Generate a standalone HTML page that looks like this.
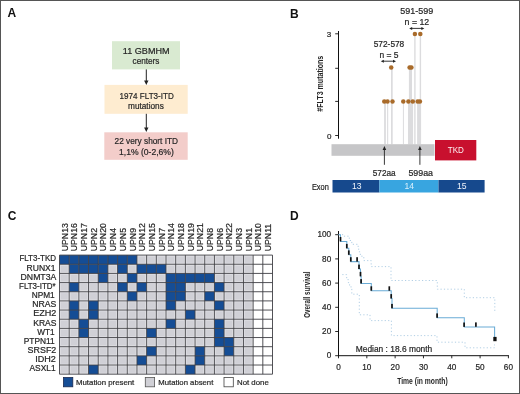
<!DOCTYPE html><html><head><meta charset="utf-8"><style>html,body{margin:0;padding:0;background:#fff;}svg{display:block;will-change:transform;}text{font-family:"Liberation Sans", sans-serif;}</style></head><body>
<svg width="520" height="394" viewBox="0 0 520 394">
<rect x="0" y="0" width="520" height="394" fill="#fff"/>
<text x="7.5" y="17.0" font-size="12" text-anchor="start" font-weight="bold" fill="#111">A</text>
<text x="290" y="17.6" font-size="12" text-anchor="start" font-weight="bold" fill="#111">B</text>
<text x="7.7" y="220.3" font-size="12" text-anchor="start" font-weight="bold" fill="#111">C</text>
<text x="290" y="220.3" font-size="12" text-anchor="start" font-weight="bold" fill="#111">D</text>
<rect x="112" y="41.2" width="68" height="28.2" fill="#d9ead1"/>
<rect x="104.5" y="84.9" width="83.2" height="28.9" fill="#feecd0"/>
<rect x="104.3" y="132.3" width="83.4" height="27.5" fill="#f3cdca"/>
<text x="146.2" y="53.8" font-size="8.7" text-anchor="middle" font-weight="normal" fill="#262626" stroke="#262626" stroke-width="0.2" textLength="46.7" lengthAdjust="spacingAndGlyphs">11 GBMHM</text>
<text x="146.0" y="63.8" font-size="8.7" text-anchor="middle" font-weight="normal" fill="#262626" stroke="#262626" stroke-width="0.2" textLength="26.9" lengthAdjust="spacingAndGlyphs">centers</text>
<text x="146.7" y="98.7" font-size="8.7" text-anchor="middle" font-weight="normal" fill="#262626" stroke="#262626" stroke-width="0.2" textLength="54.2" lengthAdjust="spacingAndGlyphs">1974 FLT3-ITD</text>
<text x="145.9" y="108.6" font-size="8.7" text-anchor="middle" font-weight="normal" fill="#262626" stroke="#262626" stroke-width="0.2" textLength="35.8" lengthAdjust="spacingAndGlyphs">mutations</text>
<text x="146.3" y="144.2" font-size="8.7" text-anchor="middle" font-weight="normal" fill="#262626" stroke="#262626" stroke-width="0.2" textLength="63.5" lengthAdjust="spacingAndGlyphs">22 very short ITD</text>
<text x="146.4" y="155.2" font-size="8.7" text-anchor="middle" font-weight="normal" fill="#262626" stroke="#262626" stroke-width="0.2" textLength="54.8" lengthAdjust="spacingAndGlyphs">1,1% (0-2,6%)</text>
<line x1="146.3" y1="69.4" x2="146.3" y2="81.0" stroke="#222" stroke-width="1"/>
<path d="M144.10000000000002,80.5 L148.5,80.5 L146.3,85.0 Z" fill="#222"/>
<line x1="146.3" y1="113.8" x2="146.3" y2="128.0" stroke="#222" stroke-width="1"/>
<path d="M144.10000000000002,127.5 L148.5,127.5 L146.3,132.0 Z" fill="#222"/>
<rect x="384.1" y="101.6" width="1.80" height="42.70" fill="#dcdcde"/>
<rect x="387.1" y="101.6" width="1.10" height="42.70" fill="#dcdcde"/>
<rect x="391.0" y="67.6" width="1.70" height="76.70" fill="#dcdcde"/>
<rect x="402.9" y="101.6" width="1.00" height="42.70" fill="#dcdcde"/>
<rect x="408.0" y="101.6" width="5.10" height="42.70" fill="#dcdcde"/>
<rect x="408.9" y="67.6" width="3.10" height="76.70" fill="#dcdcde"/>
<rect x="414.2" y="34" width="1.40" height="110.30" fill="#dcdcde"/>
<rect x="417.1" y="101.6" width="3.60" height="42.70" fill="#dcdcde"/>
<rect x="419.7" y="34" width="1.40" height="110.30" fill="#dcdcde"/>
<rect x="331.5" y="144.2" width="103" height="11.6" fill="#c6c6c8"/>
<rect x="435" y="140" width="41.3" height="20.4" fill="#c8102e"/>
<text x="455.8" y="153.2" font-size="8.6" text-anchor="middle" font-weight="normal" fill="#fdf0f2" textLength="16.1" lengthAdjust="spacingAndGlyphs">TKD</text>
<rect x="332.5" y="180" width="46.9" height="12.5" fill="#16498d"/>
<rect x="379.4" y="180" width="59.1" height="12.5" fill="#38a5e0"/>
<rect x="438.5" y="180" width="46.1" height="12.5" fill="#16498d"/>
<text x="356.7" y="189.1" font-size="8.6" text-anchor="middle" font-weight="normal" fill="#eef3fa">13</text>
<text x="409.3" y="189.1" font-size="8.6" text-anchor="middle" font-weight="normal" fill="#d9f0fc">14</text>
<text x="461.8" y="189.1" font-size="8.6" text-anchor="middle" font-weight="normal" fill="#eef3fa">15</text>
<text x="328.8" y="189.6" font-size="8.4" text-anchor="end" font-weight="normal" fill="#262626" stroke="#262626" stroke-width="0.2" textLength="16.9" lengthAdjust="spacingAndGlyphs">Exon</text>
<line x1="384.4" y1="149.5" x2="384.4" y2="164.8" stroke="#222" stroke-width="0.9"/>
<path d="M382.59999999999997,150.0 L386.2,150.0 L384.4,146.0 Z" fill="#222"/>
<line x1="419.9" y1="149.5" x2="419.9" y2="164.8" stroke="#222" stroke-width="0.9"/>
<path d="M418.09999999999997,150.0 L421.7,150.0 L419.9,146.0 Z" fill="#222"/>
<text x="384.2" y="176.2" font-size="8.4" text-anchor="middle" font-weight="normal" fill="#262626" stroke="#262626" stroke-width="0.2" textLength="22.9" lengthAdjust="spacingAndGlyphs">572aa</text>
<text x="420.7" y="175.8" font-size="8.4" text-anchor="middle" font-weight="normal" fill="#262626" stroke="#262626" stroke-width="0.2" textLength="24.6" lengthAdjust="spacingAndGlyphs">599aa</text>
<line x1="338.5" y1="31" x2="338.5" y2="138.7" stroke="#111" stroke-width="1"/>
<line x1="335.2" y1="33.8" x2="338.5" y2="33.8" stroke="#111" stroke-width="0.9"/>
<line x1="335.2" y1="68.3" x2="338.5" y2="68.3" stroke="#111" stroke-width="0.9"/>
<line x1="335.2" y1="101.4" x2="338.5" y2="101.4" stroke="#111" stroke-width="0.9"/>
<line x1="335.2" y1="135.5" x2="338.5" y2="135.5" stroke="#111" stroke-width="0.9"/>
<text x="331.3" y="36.9" font-size="8" text-anchor="end" font-weight="normal" fill="#262626" stroke="#262626" stroke-width="0.2">3</text>
<text x="331.5" y="138.5" font-size="8" text-anchor="end" font-weight="normal" fill="#262626" stroke="#262626" stroke-width="0.2">0</text>
<text x="323.5" y="83.7" font-size="8.6" text-anchor="middle" font-weight="bold" fill="#262626" textLength="56" lengthAdjust="spacingAndGlyphs" transform="rotate(-90 323.5 83.7)">#FLT3 mutations</text>
<text x="389.0" y="47.3" font-size="8.4" text-anchor="middle" font-weight="normal" fill="#262626" stroke="#262626" stroke-width="0.2" textLength="30.5" lengthAdjust="spacingAndGlyphs">572-578</text>
<text x="389.0" y="58.0" font-size="8.4" text-anchor="middle" font-weight="normal" fill="#262626" stroke="#262626" stroke-width="0.2" textLength="19.1" lengthAdjust="spacingAndGlyphs">n = 5</text>
<text x="416.7" y="14.0" font-size="8.4" text-anchor="middle" font-weight="normal" fill="#262626" stroke="#262626" stroke-width="0.2" textLength="32.9" lengthAdjust="spacingAndGlyphs">591-599</text>
<text x="416.9" y="24.6" font-size="8.4" text-anchor="middle" font-weight="normal" fill="#262626" stroke="#262626" stroke-width="0.2" textLength="24.6" lengthAdjust="spacingAndGlyphs">n = 12</text>
<line x1="382.8" y1="61.2" x2="394.0" y2="61.2" stroke="#222" stroke-width="0.9"/>
<path d="M380.8,61.2 L383.8,59.7 L383.8,62.7 Z" fill="#222"/>
<path d="M396.0,61.2 L393.0,59.7 L393.0,62.7 Z" fill="#222"/>
<line x1="411.2" y1="28.4" x2="422.3" y2="28.4" stroke="#222" stroke-width="0.9"/>
<path d="M409.2,28.4 L412.2,26.9 L412.2,29.9 Z" fill="#222"/>
<path d="M424.3,28.4 L421.3,26.9 L421.3,29.9 Z" fill="#222"/>
<circle cx="414.9" cy="34" r="2.25" fill="#a96b2a"/>
<circle cx="420.3" cy="34" r="2.25" fill="#a96b2a"/>
<circle cx="391.2" cy="67.6" r="2.25" fill="#a96b2a"/>
<circle cx="409.6" cy="67.6" r="2.25" fill="#a96b2a"/>
<circle cx="411.4" cy="67.6" r="2.25" fill="#a96b2a"/>
<circle cx="384.3" cy="101.6" r="2.25" fill="#a96b2a"/>
<circle cx="387.5" cy="101.6" r="2.25" fill="#a96b2a"/>
<circle cx="392.5" cy="101.6" r="2.25" fill="#a96b2a"/>
<circle cx="403.3" cy="101.6" r="2.25" fill="#a96b2a"/>
<circle cx="408.4" cy="101.6" r="2.25" fill="#a96b2a"/>
<circle cx="412.8" cy="101.6" r="2.25" fill="#a96b2a"/>
<circle cx="417.7" cy="101.6" r="2.25" fill="#a96b2a"/>
<circle cx="419.9" cy="101.6" r="2.25" fill="#a96b2a"/>
<rect x="59.50" y="255.10" width="9.682" height="9.16" fill="#154d95"/>
<rect x="69.18" y="255.10" width="9.682" height="9.16" fill="#154d95"/>
<rect x="78.86" y="255.10" width="9.682" height="9.16" fill="#154d95"/>
<rect x="88.55" y="255.10" width="9.682" height="9.16" fill="#154d95"/>
<rect x="98.23" y="255.10" width="9.682" height="9.16" fill="#154d95"/>
<rect x="107.91" y="255.10" width="9.682" height="9.16" fill="#154d95"/>
<rect x="117.59" y="255.10" width="9.682" height="9.16" fill="#154d95"/>
<rect x="127.27" y="255.10" width="9.682" height="9.16" fill="#154d95"/>
<rect x="137.96" y="256.10" width="7.682" height="7.16" fill="#d0d0d6" stroke="#dadadf" stroke-width="1"/>
<rect x="147.64" y="256.10" width="7.682" height="7.16" fill="#d0d0d6" stroke="#dadadf" stroke-width="1"/>
<rect x="157.32" y="256.10" width="7.682" height="7.16" fill="#d0d0d6" stroke="#dadadf" stroke-width="1"/>
<rect x="167.00" y="256.10" width="7.682" height="7.16" fill="#d0d0d6" stroke="#dadadf" stroke-width="1"/>
<rect x="176.68" y="256.10" width="7.682" height="7.16" fill="#d0d0d6" stroke="#dadadf" stroke-width="1"/>
<rect x="186.37" y="256.10" width="7.682" height="7.16" fill="#d0d0d6" stroke="#dadadf" stroke-width="1"/>
<rect x="196.05" y="256.10" width="7.682" height="7.16" fill="#d0d0d6" stroke="#dadadf" stroke-width="1"/>
<rect x="205.73" y="256.10" width="7.682" height="7.16" fill="#d0d0d6" stroke="#dadadf" stroke-width="1"/>
<rect x="215.41" y="256.10" width="7.682" height="7.16" fill="#d0d0d6" stroke="#dadadf" stroke-width="1"/>
<rect x="225.09" y="256.10" width="7.682" height="7.16" fill="#d0d0d6" stroke="#dadadf" stroke-width="1"/>
<rect x="234.78" y="256.10" width="7.682" height="7.16" fill="#d0d0d6" stroke="#dadadf" stroke-width="1"/>
<rect x="244.46" y="256.10" width="7.682" height="7.16" fill="#d0d0d6" stroke="#dadadf" stroke-width="1"/>
<rect x="253.14" y="255.10" width="9.682" height="9.16" fill="#ffffff"/>
<rect x="262.82" y="255.10" width="9.682" height="9.16" fill="#ffffff"/>
<rect x="60.50" y="265.26" width="7.682" height="7.16" fill="#d0d0d6" stroke="#dadadf" stroke-width="1"/>
<rect x="69.18" y="264.26" width="9.682" height="9.16" fill="#154d95"/>
<rect x="78.86" y="264.26" width="9.682" height="9.16" fill="#154d95"/>
<rect x="88.55" y="264.26" width="9.682" height="9.16" fill="#154d95"/>
<rect x="98.23" y="264.26" width="9.682" height="9.16" fill="#154d95"/>
<rect x="108.91" y="265.26" width="7.682" height="7.16" fill="#d0d0d6" stroke="#dadadf" stroke-width="1"/>
<rect x="117.59" y="264.26" width="9.682" height="9.16" fill="#154d95"/>
<rect x="128.27" y="265.26" width="7.682" height="7.16" fill="#d0d0d6" stroke="#dadadf" stroke-width="1"/>
<rect x="136.96" y="264.26" width="9.682" height="9.16" fill="#154d95"/>
<rect x="146.64" y="264.26" width="9.682" height="9.16" fill="#154d95"/>
<rect x="156.32" y="264.26" width="9.682" height="9.16" fill="#154d95"/>
<rect x="167.00" y="265.26" width="7.682" height="7.16" fill="#d0d0d6" stroke="#dadadf" stroke-width="1"/>
<rect x="176.68" y="265.26" width="7.682" height="7.16" fill="#d0d0d6" stroke="#dadadf" stroke-width="1"/>
<rect x="186.37" y="265.26" width="7.682" height="7.16" fill="#d0d0d6" stroke="#dadadf" stroke-width="1"/>
<rect x="196.05" y="265.26" width="7.682" height="7.16" fill="#d0d0d6" stroke="#dadadf" stroke-width="1"/>
<rect x="205.73" y="265.26" width="7.682" height="7.16" fill="#d0d0d6" stroke="#dadadf" stroke-width="1"/>
<rect x="215.41" y="265.26" width="7.682" height="7.16" fill="#d0d0d6" stroke="#dadadf" stroke-width="1"/>
<rect x="225.09" y="265.26" width="7.682" height="7.16" fill="#d0d0d6" stroke="#dadadf" stroke-width="1"/>
<rect x="234.78" y="265.26" width="7.682" height="7.16" fill="#d0d0d6" stroke="#dadadf" stroke-width="1"/>
<rect x="244.46" y="265.26" width="7.682" height="7.16" fill="#d0d0d6" stroke="#dadadf" stroke-width="1"/>
<rect x="253.14" y="264.26" width="9.682" height="9.16" fill="#ffffff"/>
<rect x="262.82" y="264.26" width="9.682" height="9.16" fill="#ffffff"/>
<rect x="60.50" y="274.42" width="7.682" height="7.16" fill="#d0d0d6" stroke="#dadadf" stroke-width="1"/>
<rect x="70.18" y="274.42" width="7.682" height="7.16" fill="#d0d0d6" stroke="#dadadf" stroke-width="1"/>
<rect x="79.86" y="274.42" width="7.682" height="7.16" fill="#d0d0d6" stroke="#dadadf" stroke-width="1"/>
<rect x="89.55" y="274.42" width="7.682" height="7.16" fill="#d0d0d6" stroke="#dadadf" stroke-width="1"/>
<rect x="98.23" y="273.42" width="9.682" height="9.16" fill="#154d95"/>
<rect x="108.91" y="274.42" width="7.682" height="7.16" fill="#d0d0d6" stroke="#dadadf" stroke-width="1"/>
<rect x="118.59" y="274.42" width="7.682" height="7.16" fill="#d0d0d6" stroke="#dadadf" stroke-width="1"/>
<rect x="127.27" y="273.42" width="9.682" height="9.16" fill="#154d95"/>
<rect x="137.96" y="274.42" width="7.682" height="7.16" fill="#d0d0d6" stroke="#dadadf" stroke-width="1"/>
<rect x="147.64" y="274.42" width="7.682" height="7.16" fill="#d0d0d6" stroke="#dadadf" stroke-width="1"/>
<rect x="157.32" y="274.42" width="7.682" height="7.16" fill="#d0d0d6" stroke="#dadadf" stroke-width="1"/>
<rect x="166.00" y="273.42" width="9.682" height="9.16" fill="#154d95"/>
<rect x="175.68" y="273.42" width="9.682" height="9.16" fill="#154d95"/>
<rect x="185.37" y="273.42" width="9.682" height="9.16" fill="#154d95"/>
<rect x="195.05" y="273.42" width="9.682" height="9.16" fill="#154d95"/>
<rect x="204.73" y="273.42" width="9.682" height="9.16" fill="#154d95"/>
<rect x="215.41" y="274.42" width="7.682" height="7.16" fill="#d0d0d6" stroke="#dadadf" stroke-width="1"/>
<rect x="225.09" y="274.42" width="7.682" height="7.16" fill="#d0d0d6" stroke="#dadadf" stroke-width="1"/>
<rect x="234.78" y="274.42" width="7.682" height="7.16" fill="#d0d0d6" stroke="#dadadf" stroke-width="1"/>
<rect x="244.46" y="274.42" width="7.682" height="7.16" fill="#d0d0d6" stroke="#dadadf" stroke-width="1"/>
<rect x="253.14" y="273.42" width="9.682" height="9.16" fill="#ffffff"/>
<rect x="262.82" y="273.42" width="9.682" height="9.16" fill="#ffffff"/>
<rect x="60.50" y="283.58" width="7.682" height="7.16" fill="#d0d0d6" stroke="#dadadf" stroke-width="1"/>
<rect x="69.18" y="282.58" width="9.682" height="9.16" fill="#154d95"/>
<rect x="79.86" y="283.58" width="7.682" height="7.16" fill="#d0d0d6" stroke="#dadadf" stroke-width="1"/>
<rect x="89.55" y="283.58" width="7.682" height="7.16" fill="#d0d0d6" stroke="#dadadf" stroke-width="1"/>
<rect x="99.23" y="283.58" width="7.682" height="7.16" fill="#d0d0d6" stroke="#dadadf" stroke-width="1"/>
<rect x="108.91" y="283.58" width="7.682" height="7.16" fill="#d0d0d6" stroke="#dadadf" stroke-width="1"/>
<rect x="117.59" y="282.58" width="9.682" height="9.16" fill="#154d95"/>
<rect x="128.27" y="283.58" width="7.682" height="7.16" fill="#d0d0d6" stroke="#dadadf" stroke-width="1"/>
<rect x="136.96" y="282.58" width="9.682" height="9.16" fill="#154d95"/>
<rect x="147.64" y="283.58" width="7.682" height="7.16" fill="#d0d0d6" stroke="#dadadf" stroke-width="1"/>
<rect x="157.32" y="283.58" width="7.682" height="7.16" fill="#d0d0d6" stroke="#dadadf" stroke-width="1"/>
<rect x="166.00" y="282.58" width="9.682" height="9.16" fill="#154d95"/>
<rect x="175.68" y="282.58" width="9.682" height="9.16" fill="#154d95"/>
<rect x="186.37" y="283.58" width="7.682" height="7.16" fill="#d0d0d6" stroke="#dadadf" stroke-width="1"/>
<rect x="196.05" y="283.58" width="7.682" height="7.16" fill="#d0d0d6" stroke="#dadadf" stroke-width="1"/>
<rect x="205.73" y="283.58" width="7.682" height="7.16" fill="#d0d0d6" stroke="#dadadf" stroke-width="1"/>
<rect x="214.41" y="282.58" width="9.682" height="9.16" fill="#154d95"/>
<rect x="225.09" y="283.58" width="7.682" height="7.16" fill="#d0d0d6" stroke="#dadadf" stroke-width="1"/>
<rect x="234.78" y="283.58" width="7.682" height="7.16" fill="#d0d0d6" stroke="#dadadf" stroke-width="1"/>
<rect x="244.46" y="283.58" width="7.682" height="7.16" fill="#d0d0d6" stroke="#dadadf" stroke-width="1"/>
<rect x="253.14" y="282.58" width="9.682" height="9.16" fill="#ffffff"/>
<rect x="262.82" y="282.58" width="9.682" height="9.16" fill="#ffffff"/>
<rect x="60.50" y="292.74" width="7.682" height="7.16" fill="#d0d0d6" stroke="#dadadf" stroke-width="1"/>
<rect x="70.18" y="292.74" width="7.682" height="7.16" fill="#d0d0d6" stroke="#dadadf" stroke-width="1"/>
<rect x="79.86" y="292.74" width="7.682" height="7.16" fill="#d0d0d6" stroke="#dadadf" stroke-width="1"/>
<rect x="89.55" y="292.74" width="7.682" height="7.16" fill="#d0d0d6" stroke="#dadadf" stroke-width="1"/>
<rect x="99.23" y="292.74" width="7.682" height="7.16" fill="#d0d0d6" stroke="#dadadf" stroke-width="1"/>
<rect x="108.91" y="292.74" width="7.682" height="7.16" fill="#d0d0d6" stroke="#dadadf" stroke-width="1"/>
<rect x="118.59" y="292.74" width="7.682" height="7.16" fill="#d0d0d6" stroke="#dadadf" stroke-width="1"/>
<rect x="127.27" y="291.74" width="9.682" height="9.16" fill="#154d95"/>
<rect x="137.96" y="292.74" width="7.682" height="7.16" fill="#d0d0d6" stroke="#dadadf" stroke-width="1"/>
<rect x="147.64" y="292.74" width="7.682" height="7.16" fill="#d0d0d6" stroke="#dadadf" stroke-width="1"/>
<rect x="157.32" y="292.74" width="7.682" height="7.16" fill="#d0d0d6" stroke="#dadadf" stroke-width="1"/>
<rect x="166.00" y="291.74" width="9.682" height="9.16" fill="#154d95"/>
<rect x="175.68" y="291.74" width="9.682" height="9.16" fill="#154d95"/>
<rect x="186.37" y="292.74" width="7.682" height="7.16" fill="#d0d0d6" stroke="#dadadf" stroke-width="1"/>
<rect x="196.05" y="292.74" width="7.682" height="7.16" fill="#d0d0d6" stroke="#dadadf" stroke-width="1"/>
<rect x="204.73" y="291.74" width="9.682" height="9.16" fill="#154d95"/>
<rect x="215.41" y="292.74" width="7.682" height="7.16" fill="#d0d0d6" stroke="#dadadf" stroke-width="1"/>
<rect x="225.09" y="292.74" width="7.682" height="7.16" fill="#d0d0d6" stroke="#dadadf" stroke-width="1"/>
<rect x="234.78" y="292.74" width="7.682" height="7.16" fill="#d0d0d6" stroke="#dadadf" stroke-width="1"/>
<rect x="244.46" y="292.74" width="7.682" height="7.16" fill="#d0d0d6" stroke="#dadadf" stroke-width="1"/>
<rect x="253.14" y="291.74" width="9.682" height="9.16" fill="#ffffff"/>
<rect x="262.82" y="291.74" width="9.682" height="9.16" fill="#ffffff"/>
<rect x="60.50" y="301.90" width="7.682" height="7.16" fill="#d0d0d6" stroke="#dadadf" stroke-width="1"/>
<rect x="69.18" y="300.90" width="9.682" height="9.16" fill="#154d95"/>
<rect x="79.86" y="301.90" width="7.682" height="7.16" fill="#d0d0d6" stroke="#dadadf" stroke-width="1"/>
<rect x="88.55" y="300.90" width="9.682" height="9.16" fill="#154d95"/>
<rect x="99.23" y="301.90" width="7.682" height="7.16" fill="#d0d0d6" stroke="#dadadf" stroke-width="1"/>
<rect x="108.91" y="301.90" width="7.682" height="7.16" fill="#d0d0d6" stroke="#dadadf" stroke-width="1"/>
<rect x="118.59" y="301.90" width="7.682" height="7.16" fill="#d0d0d6" stroke="#dadadf" stroke-width="1"/>
<rect x="128.27" y="301.90" width="7.682" height="7.16" fill="#d0d0d6" stroke="#dadadf" stroke-width="1"/>
<rect x="137.96" y="301.90" width="7.682" height="7.16" fill="#d0d0d6" stroke="#dadadf" stroke-width="1"/>
<rect x="147.64" y="301.90" width="7.682" height="7.16" fill="#d0d0d6" stroke="#dadadf" stroke-width="1"/>
<rect x="157.32" y="301.90" width="7.682" height="7.16" fill="#d0d0d6" stroke="#dadadf" stroke-width="1"/>
<rect x="166.00" y="300.90" width="9.682" height="9.16" fill="#154d95"/>
<rect x="176.68" y="301.90" width="7.682" height="7.16" fill="#d0d0d6" stroke="#dadadf" stroke-width="1"/>
<rect x="186.37" y="301.90" width="7.682" height="7.16" fill="#d0d0d6" stroke="#dadadf" stroke-width="1"/>
<rect x="196.05" y="301.90" width="7.682" height="7.16" fill="#d0d0d6" stroke="#dadadf" stroke-width="1"/>
<rect x="205.73" y="301.90" width="7.682" height="7.16" fill="#d0d0d6" stroke="#dadadf" stroke-width="1"/>
<rect x="214.41" y="300.90" width="9.682" height="9.16" fill="#154d95"/>
<rect x="225.09" y="301.90" width="7.682" height="7.16" fill="#d0d0d6" stroke="#dadadf" stroke-width="1"/>
<rect x="234.78" y="301.90" width="7.682" height="7.16" fill="#d0d0d6" stroke="#dadadf" stroke-width="1"/>
<rect x="244.46" y="301.90" width="7.682" height="7.16" fill="#d0d0d6" stroke="#dadadf" stroke-width="1"/>
<rect x="253.14" y="300.90" width="9.682" height="9.16" fill="#ffffff"/>
<rect x="262.82" y="300.90" width="9.682" height="9.16" fill="#ffffff"/>
<rect x="60.50" y="311.06" width="7.682" height="7.16" fill="#d0d0d6" stroke="#dadadf" stroke-width="1"/>
<rect x="69.18" y="310.06" width="9.682" height="9.16" fill="#154d95"/>
<rect x="79.86" y="311.06" width="7.682" height="7.16" fill="#d0d0d6" stroke="#dadadf" stroke-width="1"/>
<rect x="88.55" y="310.06" width="9.682" height="9.16" fill="#154d95"/>
<rect x="99.23" y="311.06" width="7.682" height="7.16" fill="#d0d0d6" stroke="#dadadf" stroke-width="1"/>
<rect x="108.91" y="311.06" width="7.682" height="7.16" fill="#d0d0d6" stroke="#dadadf" stroke-width="1"/>
<rect x="118.59" y="311.06" width="7.682" height="7.16" fill="#d0d0d6" stroke="#dadadf" stroke-width="1"/>
<rect x="128.27" y="311.06" width="7.682" height="7.16" fill="#d0d0d6" stroke="#dadadf" stroke-width="1"/>
<rect x="137.96" y="311.06" width="7.682" height="7.16" fill="#d0d0d6" stroke="#dadadf" stroke-width="1"/>
<rect x="147.64" y="311.06" width="7.682" height="7.16" fill="#d0d0d6" stroke="#dadadf" stroke-width="1"/>
<rect x="157.32" y="311.06" width="7.682" height="7.16" fill="#d0d0d6" stroke="#dadadf" stroke-width="1"/>
<rect x="167.00" y="311.06" width="7.682" height="7.16" fill="#d0d0d6" stroke="#dadadf" stroke-width="1"/>
<rect x="176.68" y="311.06" width="7.682" height="7.16" fill="#d0d0d6" stroke="#dadadf" stroke-width="1"/>
<rect x="185.37" y="310.06" width="9.682" height="9.16" fill="#154d95"/>
<rect x="196.05" y="311.06" width="7.682" height="7.16" fill="#d0d0d6" stroke="#dadadf" stroke-width="1"/>
<rect x="205.73" y="311.06" width="7.682" height="7.16" fill="#d0d0d6" stroke="#dadadf" stroke-width="1"/>
<rect x="215.41" y="311.06" width="7.682" height="7.16" fill="#d0d0d6" stroke="#dadadf" stroke-width="1"/>
<rect x="225.09" y="311.06" width="7.682" height="7.16" fill="#d0d0d6" stroke="#dadadf" stroke-width="1"/>
<rect x="234.78" y="311.06" width="7.682" height="7.16" fill="#d0d0d6" stroke="#dadadf" stroke-width="1"/>
<rect x="244.46" y="311.06" width="7.682" height="7.16" fill="#d0d0d6" stroke="#dadadf" stroke-width="1"/>
<rect x="253.14" y="310.06" width="9.682" height="9.16" fill="#ffffff"/>
<rect x="262.82" y="310.06" width="9.682" height="9.16" fill="#ffffff"/>
<rect x="60.50" y="320.22" width="7.682" height="7.16" fill="#d0d0d6" stroke="#dadadf" stroke-width="1"/>
<rect x="70.18" y="320.22" width="7.682" height="7.16" fill="#d0d0d6" stroke="#dadadf" stroke-width="1"/>
<rect x="78.86" y="319.22" width="9.682" height="9.16" fill="#154d95"/>
<rect x="89.55" y="320.22" width="7.682" height="7.16" fill="#d0d0d6" stroke="#dadadf" stroke-width="1"/>
<rect x="99.23" y="320.22" width="7.682" height="7.16" fill="#d0d0d6" stroke="#dadadf" stroke-width="1"/>
<rect x="108.91" y="320.22" width="7.682" height="7.16" fill="#d0d0d6" stroke="#dadadf" stroke-width="1"/>
<rect x="118.59" y="320.22" width="7.682" height="7.16" fill="#d0d0d6" stroke="#dadadf" stroke-width="1"/>
<rect x="128.27" y="320.22" width="7.682" height="7.16" fill="#d0d0d6" stroke="#dadadf" stroke-width="1"/>
<rect x="137.96" y="320.22" width="7.682" height="7.16" fill="#d0d0d6" stroke="#dadadf" stroke-width="1"/>
<rect x="147.64" y="320.22" width="7.682" height="7.16" fill="#d0d0d6" stroke="#dadadf" stroke-width="1"/>
<rect x="157.32" y="320.22" width="7.682" height="7.16" fill="#d0d0d6" stroke="#dadadf" stroke-width="1"/>
<rect x="166.00" y="319.22" width="9.682" height="9.16" fill="#154d95"/>
<rect x="176.68" y="320.22" width="7.682" height="7.16" fill="#d0d0d6" stroke="#dadadf" stroke-width="1"/>
<rect x="186.37" y="320.22" width="7.682" height="7.16" fill="#d0d0d6" stroke="#dadadf" stroke-width="1"/>
<rect x="196.05" y="320.22" width="7.682" height="7.16" fill="#d0d0d6" stroke="#dadadf" stroke-width="1"/>
<rect x="205.73" y="320.22" width="7.682" height="7.16" fill="#d0d0d6" stroke="#dadadf" stroke-width="1"/>
<rect x="214.41" y="319.22" width="9.682" height="9.16" fill="#154d95"/>
<rect x="225.09" y="320.22" width="7.682" height="7.16" fill="#d0d0d6" stroke="#dadadf" stroke-width="1"/>
<rect x="234.78" y="320.22" width="7.682" height="7.16" fill="#d0d0d6" stroke="#dadadf" stroke-width="1"/>
<rect x="244.46" y="320.22" width="7.682" height="7.16" fill="#d0d0d6" stroke="#dadadf" stroke-width="1"/>
<rect x="253.14" y="319.22" width="9.682" height="9.16" fill="#ffffff"/>
<rect x="262.82" y="319.22" width="9.682" height="9.16" fill="#ffffff"/>
<rect x="60.50" y="329.38" width="7.682" height="7.16" fill="#d0d0d6" stroke="#dadadf" stroke-width="1"/>
<rect x="70.18" y="329.38" width="7.682" height="7.16" fill="#d0d0d6" stroke="#dadadf" stroke-width="1"/>
<rect x="78.86" y="328.38" width="9.682" height="9.16" fill="#154d95"/>
<rect x="89.55" y="329.38" width="7.682" height="7.16" fill="#d0d0d6" stroke="#dadadf" stroke-width="1"/>
<rect x="99.23" y="329.38" width="7.682" height="7.16" fill="#d0d0d6" stroke="#dadadf" stroke-width="1"/>
<rect x="108.91" y="329.38" width="7.682" height="7.16" fill="#d0d0d6" stroke="#dadadf" stroke-width="1"/>
<rect x="118.59" y="329.38" width="7.682" height="7.16" fill="#d0d0d6" stroke="#dadadf" stroke-width="1"/>
<rect x="128.27" y="329.38" width="7.682" height="7.16" fill="#d0d0d6" stroke="#dadadf" stroke-width="1"/>
<rect x="137.96" y="329.38" width="7.682" height="7.16" fill="#d0d0d6" stroke="#dadadf" stroke-width="1"/>
<rect x="146.64" y="328.38" width="9.682" height="9.16" fill="#154d95"/>
<rect x="157.32" y="329.38" width="7.682" height="7.16" fill="#d0d0d6" stroke="#dadadf" stroke-width="1"/>
<rect x="167.00" y="329.38" width="7.682" height="7.16" fill="#d0d0d6" stroke="#dadadf" stroke-width="1"/>
<rect x="176.68" y="329.38" width="7.682" height="7.16" fill="#d0d0d6" stroke="#dadadf" stroke-width="1"/>
<rect x="186.37" y="329.38" width="7.682" height="7.16" fill="#d0d0d6" stroke="#dadadf" stroke-width="1"/>
<rect x="196.05" y="329.38" width="7.682" height="7.16" fill="#d0d0d6" stroke="#dadadf" stroke-width="1"/>
<rect x="205.73" y="329.38" width="7.682" height="7.16" fill="#d0d0d6" stroke="#dadadf" stroke-width="1"/>
<rect x="214.41" y="328.38" width="9.682" height="9.16" fill="#154d95"/>
<rect x="225.09" y="329.38" width="7.682" height="7.16" fill="#d0d0d6" stroke="#dadadf" stroke-width="1"/>
<rect x="234.78" y="329.38" width="7.682" height="7.16" fill="#d0d0d6" stroke="#dadadf" stroke-width="1"/>
<rect x="244.46" y="329.38" width="7.682" height="7.16" fill="#d0d0d6" stroke="#dadadf" stroke-width="1"/>
<rect x="253.14" y="328.38" width="9.682" height="9.16" fill="#ffffff"/>
<rect x="262.82" y="328.38" width="9.682" height="9.16" fill="#ffffff"/>
<rect x="60.50" y="338.54" width="7.682" height="7.16" fill="#d0d0d6" stroke="#dadadf" stroke-width="1"/>
<rect x="70.18" y="338.54" width="7.682" height="7.16" fill="#d0d0d6" stroke="#dadadf" stroke-width="1"/>
<rect x="79.86" y="338.54" width="7.682" height="7.16" fill="#d0d0d6" stroke="#dadadf" stroke-width="1"/>
<rect x="89.55" y="338.54" width="7.682" height="7.16" fill="#d0d0d6" stroke="#dadadf" stroke-width="1"/>
<rect x="99.23" y="338.54" width="7.682" height="7.16" fill="#d0d0d6" stroke="#dadadf" stroke-width="1"/>
<rect x="108.91" y="338.54" width="7.682" height="7.16" fill="#d0d0d6" stroke="#dadadf" stroke-width="1"/>
<rect x="118.59" y="338.54" width="7.682" height="7.16" fill="#d0d0d6" stroke="#dadadf" stroke-width="1"/>
<rect x="128.27" y="338.54" width="7.682" height="7.16" fill="#d0d0d6" stroke="#dadadf" stroke-width="1"/>
<rect x="137.96" y="338.54" width="7.682" height="7.16" fill="#d0d0d6" stroke="#dadadf" stroke-width="1"/>
<rect x="147.64" y="338.54" width="7.682" height="7.16" fill="#d0d0d6" stroke="#dadadf" stroke-width="1"/>
<rect x="157.32" y="338.54" width="7.682" height="7.16" fill="#d0d0d6" stroke="#dadadf" stroke-width="1"/>
<rect x="167.00" y="338.54" width="7.682" height="7.16" fill="#d0d0d6" stroke="#dadadf" stroke-width="1"/>
<rect x="176.68" y="338.54" width="7.682" height="7.16" fill="#d0d0d6" stroke="#dadadf" stroke-width="1"/>
<rect x="186.37" y="338.54" width="7.682" height="7.16" fill="#d0d0d6" stroke="#dadadf" stroke-width="1"/>
<rect x="196.05" y="338.54" width="7.682" height="7.16" fill="#d0d0d6" stroke="#dadadf" stroke-width="1"/>
<rect x="205.73" y="338.54" width="7.682" height="7.16" fill="#d0d0d6" stroke="#dadadf" stroke-width="1"/>
<rect x="214.41" y="337.54" width="9.682" height="9.16" fill="#154d95"/>
<rect x="224.09" y="337.54" width="9.682" height="9.16" fill="#154d95"/>
<rect x="234.78" y="338.54" width="7.682" height="7.16" fill="#d0d0d6" stroke="#dadadf" stroke-width="1"/>
<rect x="244.46" y="338.54" width="7.682" height="7.16" fill="#d0d0d6" stroke="#dadadf" stroke-width="1"/>
<rect x="253.14" y="337.54" width="9.682" height="9.16" fill="#ffffff"/>
<rect x="262.82" y="337.54" width="9.682" height="9.16" fill="#ffffff"/>
<rect x="60.50" y="347.70" width="7.682" height="7.16" fill="#d0d0d6" stroke="#dadadf" stroke-width="1"/>
<rect x="70.18" y="347.70" width="7.682" height="7.16" fill="#d0d0d6" stroke="#dadadf" stroke-width="1"/>
<rect x="79.86" y="347.70" width="7.682" height="7.16" fill="#d0d0d6" stroke="#dadadf" stroke-width="1"/>
<rect x="89.55" y="347.70" width="7.682" height="7.16" fill="#d0d0d6" stroke="#dadadf" stroke-width="1"/>
<rect x="99.23" y="347.70" width="7.682" height="7.16" fill="#d0d0d6" stroke="#dadadf" stroke-width="1"/>
<rect x="108.91" y="347.70" width="7.682" height="7.16" fill="#d0d0d6" stroke="#dadadf" stroke-width="1"/>
<rect x="118.59" y="347.70" width="7.682" height="7.16" fill="#d0d0d6" stroke="#dadadf" stroke-width="1"/>
<rect x="128.27" y="347.70" width="7.682" height="7.16" fill="#d0d0d6" stroke="#dadadf" stroke-width="1"/>
<rect x="137.96" y="347.70" width="7.682" height="7.16" fill="#d0d0d6" stroke="#dadadf" stroke-width="1"/>
<rect x="146.64" y="346.70" width="9.682" height="9.16" fill="#154d95"/>
<rect x="157.32" y="347.70" width="7.682" height="7.16" fill="#d0d0d6" stroke="#dadadf" stroke-width="1"/>
<rect x="167.00" y="347.70" width="7.682" height="7.16" fill="#d0d0d6" stroke="#dadadf" stroke-width="1"/>
<rect x="176.68" y="347.70" width="7.682" height="7.16" fill="#d0d0d6" stroke="#dadadf" stroke-width="1"/>
<rect x="186.37" y="347.70" width="7.682" height="7.16" fill="#d0d0d6" stroke="#dadadf" stroke-width="1"/>
<rect x="195.05" y="346.70" width="9.682" height="9.16" fill="#154d95"/>
<rect x="205.73" y="347.70" width="7.682" height="7.16" fill="#d0d0d6" stroke="#dadadf" stroke-width="1"/>
<rect x="215.41" y="347.70" width="7.682" height="7.16" fill="#d0d0d6" stroke="#dadadf" stroke-width="1"/>
<rect x="224.09" y="346.70" width="9.682" height="9.16" fill="#154d95"/>
<rect x="234.78" y="347.70" width="7.682" height="7.16" fill="#d0d0d6" stroke="#dadadf" stroke-width="1"/>
<rect x="244.46" y="347.70" width="7.682" height="7.16" fill="#d0d0d6" stroke="#dadadf" stroke-width="1"/>
<rect x="253.14" y="346.70" width="9.682" height="9.16" fill="#ffffff"/>
<rect x="262.82" y="346.70" width="9.682" height="9.16" fill="#ffffff"/>
<rect x="60.50" y="356.86" width="7.682" height="7.16" fill="#d0d0d6" stroke="#dadadf" stroke-width="1"/>
<rect x="70.18" y="356.86" width="7.682" height="7.16" fill="#d0d0d6" stroke="#dadadf" stroke-width="1"/>
<rect x="79.86" y="356.86" width="7.682" height="7.16" fill="#d0d0d6" stroke="#dadadf" stroke-width="1"/>
<rect x="89.55" y="356.86" width="7.682" height="7.16" fill="#d0d0d6" stroke="#dadadf" stroke-width="1"/>
<rect x="99.23" y="356.86" width="7.682" height="7.16" fill="#d0d0d6" stroke="#dadadf" stroke-width="1"/>
<rect x="108.91" y="356.86" width="7.682" height="7.16" fill="#d0d0d6" stroke="#dadadf" stroke-width="1"/>
<rect x="118.59" y="356.86" width="7.682" height="7.16" fill="#d0d0d6" stroke="#dadadf" stroke-width="1"/>
<rect x="128.27" y="356.86" width="7.682" height="7.16" fill="#d0d0d6" stroke="#dadadf" stroke-width="1"/>
<rect x="136.96" y="355.86" width="9.682" height="9.16" fill="#154d95"/>
<rect x="147.64" y="356.86" width="7.682" height="7.16" fill="#d0d0d6" stroke="#dadadf" stroke-width="1"/>
<rect x="157.32" y="356.86" width="7.682" height="7.16" fill="#d0d0d6" stroke="#dadadf" stroke-width="1"/>
<rect x="167.00" y="356.86" width="7.682" height="7.16" fill="#d0d0d6" stroke="#dadadf" stroke-width="1"/>
<rect x="176.68" y="356.86" width="7.682" height="7.16" fill="#d0d0d6" stroke="#dadadf" stroke-width="1"/>
<rect x="186.37" y="356.86" width="7.682" height="7.16" fill="#d0d0d6" stroke="#dadadf" stroke-width="1"/>
<rect x="195.05" y="355.86" width="9.682" height="9.16" fill="#154d95"/>
<rect x="205.73" y="356.86" width="7.682" height="7.16" fill="#d0d0d6" stroke="#dadadf" stroke-width="1"/>
<rect x="215.41" y="356.86" width="7.682" height="7.16" fill="#d0d0d6" stroke="#dadadf" stroke-width="1"/>
<rect x="225.09" y="356.86" width="7.682" height="7.16" fill="#d0d0d6" stroke="#dadadf" stroke-width="1"/>
<rect x="234.78" y="356.86" width="7.682" height="7.16" fill="#d0d0d6" stroke="#dadadf" stroke-width="1"/>
<rect x="244.46" y="356.86" width="7.682" height="7.16" fill="#d0d0d6" stroke="#dadadf" stroke-width="1"/>
<rect x="253.14" y="355.86" width="9.682" height="9.16" fill="#ffffff"/>
<rect x="262.82" y="355.86" width="9.682" height="9.16" fill="#ffffff"/>
<rect x="60.50" y="366.02" width="7.682" height="7.16" fill="#d0d0d6" stroke="#dadadf" stroke-width="1"/>
<rect x="70.18" y="366.02" width="7.682" height="7.16" fill="#d0d0d6" stroke="#dadadf" stroke-width="1"/>
<rect x="79.86" y="366.02" width="7.682" height="7.16" fill="#d0d0d6" stroke="#dadadf" stroke-width="1"/>
<rect x="88.55" y="365.02" width="9.682" height="9.16" fill="#154d95"/>
<rect x="99.23" y="366.02" width="7.682" height="7.16" fill="#d0d0d6" stroke="#dadadf" stroke-width="1"/>
<rect x="108.91" y="366.02" width="7.682" height="7.16" fill="#d0d0d6" stroke="#dadadf" stroke-width="1"/>
<rect x="118.59" y="366.02" width="7.682" height="7.16" fill="#d0d0d6" stroke="#dadadf" stroke-width="1"/>
<rect x="128.27" y="366.02" width="7.682" height="7.16" fill="#d0d0d6" stroke="#dadadf" stroke-width="1"/>
<rect x="137.96" y="366.02" width="7.682" height="7.16" fill="#d0d0d6" stroke="#dadadf" stroke-width="1"/>
<rect x="147.64" y="366.02" width="7.682" height="7.16" fill="#d0d0d6" stroke="#dadadf" stroke-width="1"/>
<rect x="157.32" y="366.02" width="7.682" height="7.16" fill="#d0d0d6" stroke="#dadadf" stroke-width="1"/>
<rect x="167.00" y="366.02" width="7.682" height="7.16" fill="#d0d0d6" stroke="#dadadf" stroke-width="1"/>
<rect x="176.68" y="366.02" width="7.682" height="7.16" fill="#d0d0d6" stroke="#dadadf" stroke-width="1"/>
<rect x="185.37" y="365.02" width="9.682" height="9.16" fill="#154d95"/>
<rect x="196.05" y="366.02" width="7.682" height="7.16" fill="#d0d0d6" stroke="#dadadf" stroke-width="1"/>
<rect x="205.73" y="366.02" width="7.682" height="7.16" fill="#d0d0d6" stroke="#dadadf" stroke-width="1"/>
<rect x="215.41" y="366.02" width="7.682" height="7.16" fill="#d0d0d6" stroke="#dadadf" stroke-width="1"/>
<rect x="225.09" y="366.02" width="7.682" height="7.16" fill="#d0d0d6" stroke="#dadadf" stroke-width="1"/>
<rect x="234.78" y="366.02" width="7.682" height="7.16" fill="#d0d0d6" stroke="#dadadf" stroke-width="1"/>
<rect x="244.46" y="366.02" width="7.682" height="7.16" fill="#d0d0d6" stroke="#dadadf" stroke-width="1"/>
<rect x="253.14" y="365.02" width="9.682" height="9.16" fill="#ffffff"/>
<rect x="262.82" y="365.02" width="9.682" height="9.16" fill="#ffffff"/>
<line x1="59.50" y1="255.1" x2="59.50" y2="374.18" stroke="#3e3e44" stroke-width="0.9"/>
<line x1="69.18" y1="255.1" x2="69.18" y2="374.18" stroke="#3e3e44" stroke-width="0.9"/>
<line x1="78.86" y1="255.1" x2="78.86" y2="374.18" stroke="#3e3e44" stroke-width="0.9"/>
<line x1="88.55" y1="255.1" x2="88.55" y2="374.18" stroke="#3e3e44" stroke-width="0.9"/>
<line x1="98.23" y1="255.1" x2="98.23" y2="374.18" stroke="#3e3e44" stroke-width="0.9"/>
<line x1="107.91" y1="255.1" x2="107.91" y2="374.18" stroke="#3e3e44" stroke-width="0.9"/>
<line x1="117.59" y1="255.1" x2="117.59" y2="374.18" stroke="#3e3e44" stroke-width="0.9"/>
<line x1="127.27" y1="255.1" x2="127.27" y2="374.18" stroke="#3e3e44" stroke-width="0.9"/>
<line x1="136.96" y1="255.1" x2="136.96" y2="374.18" stroke="#3e3e44" stroke-width="0.9"/>
<line x1="146.64" y1="255.1" x2="146.64" y2="374.18" stroke="#3e3e44" stroke-width="0.9"/>
<line x1="156.32" y1="255.1" x2="156.32" y2="374.18" stroke="#3e3e44" stroke-width="0.9"/>
<line x1="166.00" y1="255.1" x2="166.00" y2="374.18" stroke="#3e3e44" stroke-width="0.9"/>
<line x1="175.68" y1="255.1" x2="175.68" y2="374.18" stroke="#3e3e44" stroke-width="0.9"/>
<line x1="185.37" y1="255.1" x2="185.37" y2="374.18" stroke="#3e3e44" stroke-width="0.9"/>
<line x1="195.05" y1="255.1" x2="195.05" y2="374.18" stroke="#3e3e44" stroke-width="0.9"/>
<line x1="204.73" y1="255.1" x2="204.73" y2="374.18" stroke="#3e3e44" stroke-width="0.9"/>
<line x1="214.41" y1="255.1" x2="214.41" y2="374.18" stroke="#3e3e44" stroke-width="0.9"/>
<line x1="224.09" y1="255.1" x2="224.09" y2="374.18" stroke="#3e3e44" stroke-width="0.9"/>
<line x1="233.78" y1="255.1" x2="233.78" y2="374.18" stroke="#3e3e44" stroke-width="0.9"/>
<line x1="243.46" y1="255.1" x2="243.46" y2="374.18" stroke="#3e3e44" stroke-width="0.9"/>
<line x1="253.14" y1="255.1" x2="253.14" y2="374.18" stroke="#3e3e44" stroke-width="0.9"/>
<line x1="262.82" y1="255.1" x2="262.82" y2="374.18" stroke="#3e3e44" stroke-width="0.9"/>
<line x1="272.50" y1="255.1" x2="272.50" y2="374.18" stroke="#3e3e44" stroke-width="0.9"/>
<line x1="59.5" y1="255.10" x2="272.50" y2="255.10" stroke="#3e3e44" stroke-width="0.9"/>
<line x1="59.5" y1="264.26" x2="272.50" y2="264.26" stroke="#3e3e44" stroke-width="0.9"/>
<line x1="59.5" y1="273.42" x2="272.50" y2="273.42" stroke="#3e3e44" stroke-width="0.9"/>
<line x1="59.5" y1="282.58" x2="272.50" y2="282.58" stroke="#3e3e44" stroke-width="0.9"/>
<line x1="59.5" y1="291.74" x2="272.50" y2="291.74" stroke="#3e3e44" stroke-width="0.9"/>
<line x1="59.5" y1="300.90" x2="272.50" y2="300.90" stroke="#3e3e44" stroke-width="0.9"/>
<line x1="59.5" y1="310.06" x2="272.50" y2="310.06" stroke="#3e3e44" stroke-width="0.9"/>
<line x1="59.5" y1="319.22" x2="272.50" y2="319.22" stroke="#3e3e44" stroke-width="0.9"/>
<line x1="59.5" y1="328.38" x2="272.50" y2="328.38" stroke="#3e3e44" stroke-width="0.9"/>
<line x1="59.5" y1="337.54" x2="272.50" y2="337.54" stroke="#3e3e44" stroke-width="0.9"/>
<line x1="59.5" y1="346.70" x2="272.50" y2="346.70" stroke="#3e3e44" stroke-width="0.9"/>
<line x1="59.5" y1="355.86" x2="272.50" y2="355.86" stroke="#3e3e44" stroke-width="0.9"/>
<line x1="59.5" y1="365.02" x2="272.50" y2="365.02" stroke="#3e3e44" stroke-width="0.9"/>
<line x1="59.5" y1="374.18" x2="272.50" y2="374.18" stroke="#3e3e44" stroke-width="0.9"/>
<text x="19.4" y="261.4" font-size="8.2" text-anchor="start" font-weight="normal" fill="#262626" stroke="#262626" stroke-width="0.2" textLength="36.7" lengthAdjust="spacingAndGlyphs">FLT3-TKD</text>
<text x="26.5" y="270.56" font-size="8.2" text-anchor="start" font-weight="normal" fill="#262626" stroke="#262626" stroke-width="0.2" textLength="29.1" lengthAdjust="spacingAndGlyphs">RUNX1</text>
<text x="20.6" y="279.72" font-size="8.2" text-anchor="start" font-weight="normal" fill="#262626" stroke="#262626" stroke-width="0.2" textLength="35.7" lengthAdjust="spacingAndGlyphs">DNMT3A</text>
<text x="19.0" y="288.88" font-size="8.2" text-anchor="start" font-weight="normal" fill="#262626" stroke="#262626" stroke-width="0.2" textLength="36.7" lengthAdjust="spacingAndGlyphs">FLT3-ITD*</text>
<text x="31.7" y="298.04" font-size="8.2" text-anchor="start" font-weight="normal" fill="#262626" stroke="#262626" stroke-width="0.2" textLength="23.0" lengthAdjust="spacingAndGlyphs">NPM1</text>
<text x="32.2" y="307.2" font-size="8.2" text-anchor="start" font-weight="normal" fill="#262626" stroke="#262626" stroke-width="0.2" textLength="24.1" lengthAdjust="spacingAndGlyphs">NRAS</text>
<text x="33.2" y="316.36" font-size="8.2" text-anchor="start" font-weight="normal" fill="#262626" stroke="#262626" stroke-width="0.2" textLength="23.1" lengthAdjust="spacingAndGlyphs">EZH2</text>
<text x="33.2" y="325.52" font-size="8.2" text-anchor="start" font-weight="normal" fill="#262626" stroke="#262626" stroke-width="0.2" textLength="23.3" lengthAdjust="spacingAndGlyphs">KRAS</text>
<text x="37.3" y="334.68" font-size="8.2" text-anchor="start" font-weight="normal" fill="#262626" stroke="#262626" stroke-width="0.2" textLength="17.4" lengthAdjust="spacingAndGlyphs">WT1</text>
<text x="23.7" y="343.84" font-size="8.2" text-anchor="start" font-weight="normal" fill="#262626" stroke="#262626" stroke-width="0.2" textLength="31.0" lengthAdjust="spacingAndGlyphs">PTPN11</text>
<text x="27.6" y="353.0" font-size="8.2" text-anchor="start" font-weight="normal" fill="#262626" stroke="#262626" stroke-width="0.2" textLength="28.7" lengthAdjust="spacingAndGlyphs">SRSF2</text>
<text x="35.2" y="362.16" font-size="8.2" text-anchor="start" font-weight="normal" fill="#262626" stroke="#262626" stroke-width="0.2" textLength="20.6" lengthAdjust="spacingAndGlyphs">IDH2</text>
<text x="29.5" y="371.32" font-size="8.2" text-anchor="start" font-weight="normal" fill="#262626" stroke="#262626" stroke-width="0.2" textLength="26.1" lengthAdjust="spacingAndGlyphs">ASXL1</text>
<text x="67.74" y="251.2" font-size="8.7" text-anchor="start" font-weight="normal" fill="#262626" stroke="#262626" stroke-width="0.2" transform="rotate(-90 67.74 251.2)">UPN13</text>
<text x="77.42" y="251.2" font-size="8.7" text-anchor="start" font-weight="normal" fill="#262626" stroke="#262626" stroke-width="0.2" transform="rotate(-90 77.42 251.2)">UPN16</text>
<text x="87.11" y="251.2" font-size="8.7" text-anchor="start" font-weight="normal" fill="#262626" stroke="#262626" stroke-width="0.2" transform="rotate(-90 87.11 251.2)">UPN17</text>
<text x="96.79" y="251.2" font-size="8.7" text-anchor="start" font-weight="normal" fill="#262626" stroke="#262626" stroke-width="0.2" transform="rotate(-90 96.79 251.2)">UPN2</text>
<text x="106.47" y="251.2" font-size="8.7" text-anchor="start" font-weight="normal" fill="#262626" stroke="#262626" stroke-width="0.2" transform="rotate(-90 106.47 251.2)">UPN20</text>
<text x="116.15" y="251.2" font-size="8.7" text-anchor="start" font-weight="normal" fill="#262626" stroke="#262626" stroke-width="0.2" transform="rotate(-90 116.15 251.2)">UPN4</text>
<text x="125.83" y="251.2" font-size="8.7" text-anchor="start" font-weight="normal" fill="#262626" stroke="#262626" stroke-width="0.2" transform="rotate(-90 125.83 251.2)">UPN5</text>
<text x="135.52" y="251.2" font-size="8.7" text-anchor="start" font-weight="normal" fill="#262626" stroke="#262626" stroke-width="0.2" transform="rotate(-90 135.52 251.2)">UPN9</text>
<text x="145.2" y="251.2" font-size="8.7" text-anchor="start" font-weight="normal" fill="#262626" stroke="#262626" stroke-width="0.2" transform="rotate(-90 145.2 251.2)">UPN12</text>
<text x="154.88" y="251.2" font-size="8.7" text-anchor="start" font-weight="normal" fill="#262626" stroke="#262626" stroke-width="0.2" transform="rotate(-90 154.88 251.2)">UPN15</text>
<text x="164.56" y="251.2" font-size="8.7" text-anchor="start" font-weight="normal" fill="#262626" stroke="#262626" stroke-width="0.2" transform="rotate(-90 164.56 251.2)">UPN7</text>
<text x="174.24" y="251.2" font-size="8.7" text-anchor="start" font-weight="normal" fill="#262626" stroke="#262626" stroke-width="0.2" transform="rotate(-90 174.24 251.2)">UPN14</text>
<text x="183.93" y="251.2" font-size="8.7" text-anchor="start" font-weight="normal" fill="#262626" stroke="#262626" stroke-width="0.2" transform="rotate(-90 183.93 251.2)">UPN18</text>
<text x="193.61" y="251.2" font-size="8.7" text-anchor="start" font-weight="normal" fill="#262626" stroke="#262626" stroke-width="0.2" transform="rotate(-90 193.61 251.2)">UPN19</text>
<text x="203.29" y="251.2" font-size="8.7" text-anchor="start" font-weight="normal" fill="#262626" stroke="#262626" stroke-width="0.2" transform="rotate(-90 203.29 251.2)">UPN21</text>
<text x="212.97" y="251.2" font-size="8.7" text-anchor="start" font-weight="normal" fill="#262626" stroke="#262626" stroke-width="0.2" transform="rotate(-90 212.97 251.2)">UPN8</text>
<text x="222.65" y="251.2" font-size="8.7" text-anchor="start" font-weight="normal" fill="#262626" stroke="#262626" stroke-width="0.2" transform="rotate(-90 222.65 251.2)">UPN6</text>
<text x="232.34" y="251.2" font-size="8.7" text-anchor="start" font-weight="normal" fill="#262626" stroke="#262626" stroke-width="0.2" transform="rotate(-90 232.34 251.2)">UPN22</text>
<text x="242.02" y="251.2" font-size="8.7" text-anchor="start" font-weight="normal" fill="#262626" stroke="#262626" stroke-width="0.2" transform="rotate(-90 242.02 251.2)">UPN3</text>
<text x="251.7" y="251.2" font-size="8.7" text-anchor="start" font-weight="normal" fill="#262626" stroke="#262626" stroke-width="0.2" transform="rotate(-90 251.7 251.2)">UPN1</text>
<text x="261.38" y="251.2" font-size="8.7" text-anchor="start" font-weight="normal" fill="#262626" stroke="#262626" stroke-width="0.2" transform="rotate(-90 261.38 251.2)">UPN10</text>
<text x="271.06" y="251.2" font-size="8.7" text-anchor="start" font-weight="normal" fill="#262626" stroke="#262626" stroke-width="0.2" transform="rotate(-90 271.06 251.2)">UPN11</text>
<rect x="63.5" y="377.5" width="9.3" height="9.3" fill="#154d95" stroke="#1a2a50" stroke-width="0.8"/>
<text x="76" y="384.8" font-size="7.7" text-anchor="start" font-weight="normal" fill="#262626" stroke="#262626" stroke-width="0.2" textLength="58.3" lengthAdjust="spacingAndGlyphs">Mutation present</text>
<rect x="145.3" y="377.5" width="9.3" height="9.3" fill="#d0d0d6" stroke="#555" stroke-width="0.8"/>
<text x="158.3" y="384.8" font-size="7.7" text-anchor="start" font-weight="normal" fill="#262626" stroke="#262626" stroke-width="0.2" textLength="55" lengthAdjust="spacingAndGlyphs">Mutation absent</text>
<rect x="224" y="377.5" width="9.3" height="9.3" fill="#fff" stroke="#444" stroke-width="0.8"/>
<text x="237" y="384.8" font-size="7.7" text-anchor="start" font-weight="normal" fill="#262626" stroke="#262626" stroke-width="0.2" textLength="31.8" lengthAdjust="spacingAndGlyphs">Not done</text>
<line x1="338.5" y1="231" x2="338.5" y2="356.3" stroke="#111" stroke-width="1"/>
<line x1="338.0" y1="355.7" x2="508.91999999999996" y2="355.7" stroke="#111" stroke-width="1"/>
<line x1="335.2" y1="355.70" x2="338.5" y2="355.70" stroke="#111" stroke-width="0.9"/>
<text x="331.2" y="358.4" font-size="8.2" text-anchor="end" font-weight="normal" fill="#262626" stroke="#262626" stroke-width="0.2">0</text>
<line x1="335.2" y1="331.50" x2="338.5" y2="331.50" stroke="#111" stroke-width="0.9"/>
<text x="331.2" y="334.2" font-size="8.2" text-anchor="end" font-weight="normal" fill="#262626" stroke="#262626" stroke-width="0.2">20</text>
<line x1="335.2" y1="307.30" x2="338.5" y2="307.30" stroke="#111" stroke-width="0.9"/>
<text x="331.2" y="310.0" font-size="8.2" text-anchor="end" font-weight="normal" fill="#262626" stroke="#262626" stroke-width="0.2">40</text>
<line x1="335.2" y1="283.10" x2="338.5" y2="283.10" stroke="#111" stroke-width="0.9"/>
<text x="331.2" y="285.8" font-size="8.2" text-anchor="end" font-weight="normal" fill="#262626" stroke="#262626" stroke-width="0.2">60</text>
<line x1="335.2" y1="258.90" x2="338.5" y2="258.90" stroke="#111" stroke-width="0.9"/>
<text x="331.2" y="261.6" font-size="8.2" text-anchor="end" font-weight="normal" fill="#262626" stroke="#262626" stroke-width="0.2">80</text>
<line x1="335.2" y1="234.70" x2="338.5" y2="234.70" stroke="#111" stroke-width="0.9"/>
<text x="331.2" y="237.4" font-size="8.2" text-anchor="end" font-weight="normal" fill="#262626" stroke="#262626" stroke-width="0.2">100</text>
<line x1="338.50" y1="355.7" x2="338.50" y2="358.3" stroke="#111" stroke-width="0.9"/>
<text x="338.5" y="369.5" font-size="8.2" text-anchor="middle" font-weight="normal" fill="#262626" stroke="#262626" stroke-width="0.2">0</text>
<line x1="366.82" y1="355.7" x2="366.82" y2="358.3" stroke="#111" stroke-width="0.9"/>
<text x="366.82" y="369.5" font-size="8.2" text-anchor="middle" font-weight="normal" fill="#262626" stroke="#262626" stroke-width="0.2">10</text>
<line x1="395.14" y1="355.7" x2="395.14" y2="358.3" stroke="#111" stroke-width="0.9"/>
<text x="395.14" y="369.5" font-size="8.2" text-anchor="middle" font-weight="normal" fill="#262626" stroke="#262626" stroke-width="0.2">20</text>
<line x1="423.46" y1="355.7" x2="423.46" y2="358.3" stroke="#111" stroke-width="0.9"/>
<text x="423.46" y="369.5" font-size="8.2" text-anchor="middle" font-weight="normal" fill="#262626" stroke="#262626" stroke-width="0.2">30</text>
<line x1="451.78" y1="355.7" x2="451.78" y2="358.3" stroke="#111" stroke-width="0.9"/>
<text x="451.78" y="369.5" font-size="8.2" text-anchor="middle" font-weight="normal" fill="#262626" stroke="#262626" stroke-width="0.2">40</text>
<line x1="480.10" y1="355.7" x2="480.10" y2="358.3" stroke="#111" stroke-width="0.9"/>
<text x="480.1" y="369.5" font-size="8.2" text-anchor="middle" font-weight="normal" fill="#262626" stroke="#262626" stroke-width="0.2">50</text>
<line x1="508.42" y1="355.7" x2="508.42" y2="358.3" stroke="#111" stroke-width="0.9"/>
<text x="508.42" y="369.5" font-size="8.2" text-anchor="middle" font-weight="normal" fill="#262626" stroke="#262626" stroke-width="0.2">60</text>
<text x="310.1" y="294.6" font-size="8.6" text-anchor="middle" font-weight="bold" fill="#262626" textLength="46.2" lengthAdjust="spacingAndGlyphs" transform="rotate(-90 310.1 294.6)">Overall survival</text>
<text x="422.4" y="383.8" font-size="9.4" text-anchor="middle" font-weight="bold" fill="#262626" textLength="50.5" lengthAdjust="spacingAndGlyphs">Time (in month)</text>
<text x="394.0" y="351.8" font-size="8.4" text-anchor="middle" font-weight="normal" fill="#262626" stroke="#262626" stroke-width="0.2" textLength="76.5" lengthAdjust="spacingAndGlyphs">Median : 18.6 month</text>
<path d="M338.6,234.7 H343 V236.2 H349.3 V240.5 H351.8 V244.3 H357.5 V246.3 H358.7 V251.8 H360.3 V256.2 H363.8 V260.6 H371.2 V266.6 H391.0 V280.5 H437.3 V289.2 H464.3 V297.7 H494.8 V311" fill="none" stroke="#a9c9e2" stroke-width="0.9" stroke-dasharray="1.2,2.2"/>
<path d="M342.3,274.6 H346.7 V278.9 H348.1 V282.6 H349.6 V286.9 H351.8 V294.2 H359.3 V314.8 H370.0 V320.6 H391.4 V335.6 H437.0 V342.2 H465.0 V347.8 H494.5 V344.5" fill="none" stroke="#a9c9e2" stroke-width="0.9" stroke-dasharray="1.2,2.2"/>
<path d="M338.6,234.7 H340.5 V241.4 H346.8 V248.2 H348.8 V254.8 H350.8 V261.6 H359.0 V268.9 H360.5 V276.2 H361.1 V283.4 H371.3 V290.7 H391.2 V298.4 H392.0 V308.3 H437.2 V317.7 H464.3 V326.9 H494.6 V339" fill="none" stroke="#6aacd6" stroke-width="1.05"/>
<rect x="339.65" y="237.00" width="1.7" height="4.4" fill="#111"/>
<rect x="345.95" y="243.90" width="1.7" height="4.4" fill="#111"/>
<rect x="347.95" y="250.40" width="1.7" height="4.4" fill="#111"/>
<rect x="349.95" y="257.20" width="1.7" height="4.4" fill="#111"/>
<rect x="356.25" y="257.20" width="1.7" height="4.4" fill="#111"/>
<rect x="358.15" y="264.60" width="1.7" height="4.4" fill="#111"/>
<rect x="359.65" y="271.90" width="1.7" height="4.4" fill="#111"/>
<rect x="360.25" y="279.10" width="1.7" height="4.4" fill="#111"/>
<rect x="370.45" y="286.30" width="1.7" height="4.4" fill="#111"/>
<rect x="388.45" y="286.30" width="1.7" height="4.4" fill="#111"/>
<rect x="390.35" y="294.10" width="1.7" height="4.4" fill="#111"/>
<rect x="391.15" y="303.90" width="1.7" height="4.4" fill="#111"/>
<rect x="436.25" y="313.40" width="1.7" height="4.4" fill="#111"/>
<rect x="463.25" y="322.50" width="1.7" height="4.4" fill="#111"/>
<rect x="475.05" y="322.40" width="1.7" height="4.4" fill="#111"/>
<rect x="493.3" y="336.9" width="3.3" height="4.3" fill="#111"/>
<rect x="0.5" y="0.5" width="519" height="393" fill="none" stroke="#555" stroke-width="1"/>
</svg></body></html>
